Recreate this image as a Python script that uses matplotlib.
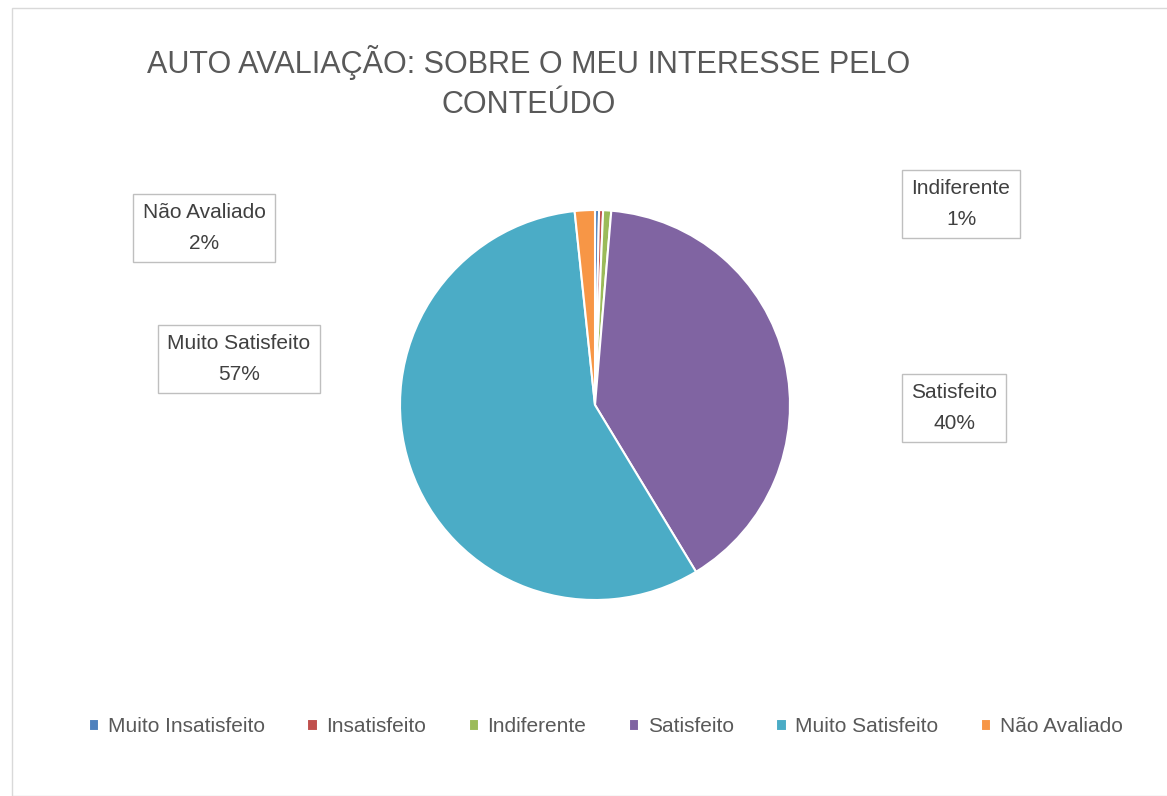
import matplotlib.pyplot as plt
from matplotlib.patches import Rectangle

categories = ['Muito Insatisfeito', 'Insatisfeito', 'Indiferente', 'Satisfeito',
              'Muito Satisfeito', 'Não Avaliado']
values = [1, 1, 2, 120, 171, 5]
colors = ['#4F81BD', '#C0504D', '#9BBB59', '#8064A2', '#4BACC6', '#F79646']
pct_labels = ['', '', '1%', '40%', '57%', '2%']
# label box centres (pixels from top-left of the image)
label_pos = {2: (961, 204), 3: (954, 408), 4: (239, 359), 5: (204, 228)}

plt.rcParams['font.family'] = ['Liberation Sans', 'DejaVu Sans']
W, H = 1167, 796
fig = plt.figure(figsize=(W / 100, H / 100), dpi=100)
ax = fig.add_axes([0, 0, 1, 1])
ax.set_xlim(0, W)
ax.set_ylim(0, H)
ax.set_aspect('equal')
ax.axis('off')

# chart border
ax.add_patch(Rectangle((12, 0), W - 11, H - 8, fill=False, edgecolor='#D9D9D9', lw=1))

wedges, _ = ax.pie(values, colors=colors, startangle=90, counterclock=False,
                   center=(595, H - 405), radius=195,
                   wedgeprops=dict(edgecolor='white', linewidth=1.5))
ax.set_xlim(0, W)
ax.set_ylim(0, H)

for i, (x, y) in label_pos.items():
    ax.text(x, H - y, f'{categories[i]}\n{pct_labels[i]}', ha='center', va='center',
            fontsize=15, color='#404040', linespacing=1.75,
            bbox=dict(boxstyle='square,pad=0.45', fc='white', ec='#BFBFBF', lw=1))

ax.text(529, H - 62, 'AUTO AVALIAÇÃO: SOBRE O MEU INTERESSE PELO', ha='center', va='center',
        fontsize=22, color='#595959')
ax.text(529, H - 105, 'CONTEÚDO', ha='center', va='center', fontsize=22, color='#595959')

fig.legend(wedges, categories, loc='center', bbox_to_anchor=(0.519, 0.087), ncol=6,
           frameon=False, fontsize=15, labelcolor='#595959', handlelength=0.5,
           handleheight=0.5, handletextpad=0.4, columnspacing=2.05)

fig.savefig('out.png', dpi=100)
